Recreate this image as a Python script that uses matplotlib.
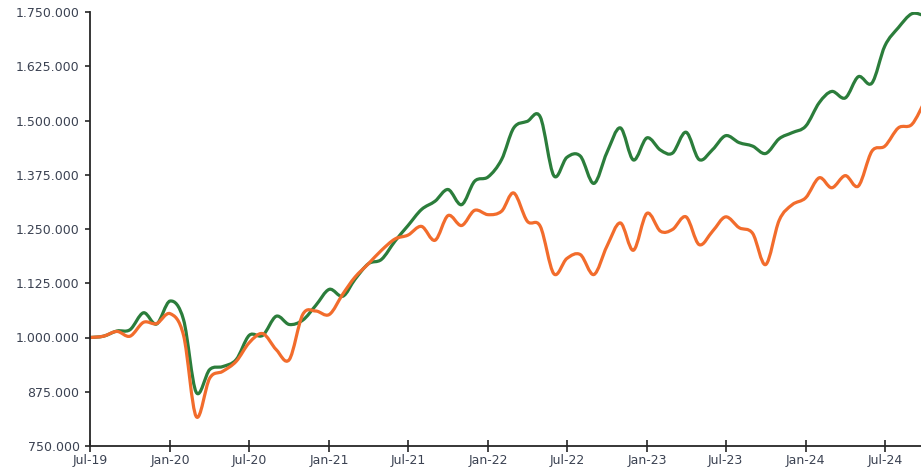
import numpy as np
import pandas as pd
import matplotlib
matplotlib.use("Agg")
import matplotlib.pyplot as plt
import matplotlib.dates as mdates
from matplotlib.path import Path
from matplotlib.patches import PathPatch
from matplotlib.ticker import FuncFormatter

# monthly values, Jul-19 .. Oct-24
months = pd.date_range("2019-07-01", periods=64, freq="MS")

green = [
    1000, 1003, 1015, 1018, 1057, 1031, 1084, 1041, 874, 926,
    933, 949, 1005, 1005, 1049, 1030, 1040, 1074, 1111, 1095,
    1134, 1170, 1180, 1222, 1258, 1295, 1314, 1341, 1306, 1360,
    1370, 1410, 1483, 1498, 1508, 1373, 1415, 1418, 1355, 1426,
    1483, 1409, 1460, 1432, 1425, 1473, 1410, 1433, 1465, 1449,
    1441, 1424, 1458, 1472, 1487, 1541, 1567, 1552, 1601, 1586,
    1672, 1714, 1746, 1741,
]
orange = [
    1000, 1003, 1014, 1003, 1035, 1032, 1055, 1005, 818, 906,
    922, 945, 988, 1009, 972, 949, 1053, 1061, 1053, 1100,
    1139, 1170, 1201, 1227, 1236, 1256, 1224, 1281, 1258, 1293,
    1283, 1291, 1333, 1268, 1256, 1147, 1182, 1191, 1145, 1210,
    1264, 1201, 1286, 1245, 1249, 1278, 1214, 1245, 1278, 1253,
    1240, 1168, 1270, 1306, 1322, 1368, 1345, 1373, 1349, 1429,
    1441, 1483, 1491, 1545,
]

ytick_vals = [750000, 875000, 1000000, 1125000, 1250000, 1375000,
              1500000, 1625000, 1750000]


def smooth_path(x, y):
    # Catmull-Rom style curve through the points, drawn as cubic Beziers
    pts = np.column_stack([np.asarray(x, float), np.asarray(y, float)])
    n = len(pts)
    verts = [pts[0]]
    codes = [Path.MOVETO]
    for i in range(n - 1):
        p0 = pts[i - 1] if i > 0 else pts[i]
        p1 = pts[i]
        p2 = pts[i + 1]
        p3 = pts[i + 2] if i + 2 < n else pts[i + 1]
        c1 = p1 + (p2 - p0) / 6.0
        c2 = p2 - (p3 - p1) / 6.0
        verts += [c1, c2, p2]
        codes += [Path.CURVE4] * 3
    return Path(verts, codes)


fig = plt.figure(figsize=(9.21, 4.72), dpi=100)
ax = fig.add_axes([90 / 921, 26 / 472, 1 - 90 / 921, (446 - 12) / 472])

xnum = mdates.date2num(months)
for vals, col in [(green, "#2b7d3b"), (orange, "#f26c2c")]:
    yv = np.array(vals) * 1000
    ax.add_patch(PathPatch(smooth_path(xnum, yv), fill=False, edgecolor=col,
                           lw=2.3, capstyle="round", joinstyle="round"))

ax.set_xlim(mdates.date2num(pd.Timestamp("2019-07-01")),
            mdates.date2num(pd.Timestamp("2024-09-22")))
ax.set_ylim(750000, 1750000)
ax.set_yticks(ytick_vals)
ax.yaxis.set_major_formatter(FuncFormatter(lambda v, p: f"{v:,.0f}".replace(",", ".")))
ax.xaxis.set_major_locator(mdates.MonthLocator(bymonth=[1, 7]))
ax.xaxis.set_major_formatter(mdates.DateFormatter("%b-%y"))

for s in ["top", "right"]:
    ax.spines[s].set_visible(False)
for s in ["left", "bottom"]:
    ax.spines[s].set_color("#262626")
    ax.spines[s].set_linewidth(1.3)

ax.tick_params(axis="y", direction="out", length=3.5, width=1.2, color="#262626",
               labelsize=9, labelcolor="#3b4252", pad=4)
ax.tick_params(axis="x", direction="inout", length=8, width=1.2, color="#262626",
               labelsize=9, labelcolor="#3b4252", pad=2)

fig.savefig("out.png", dpi=100)
